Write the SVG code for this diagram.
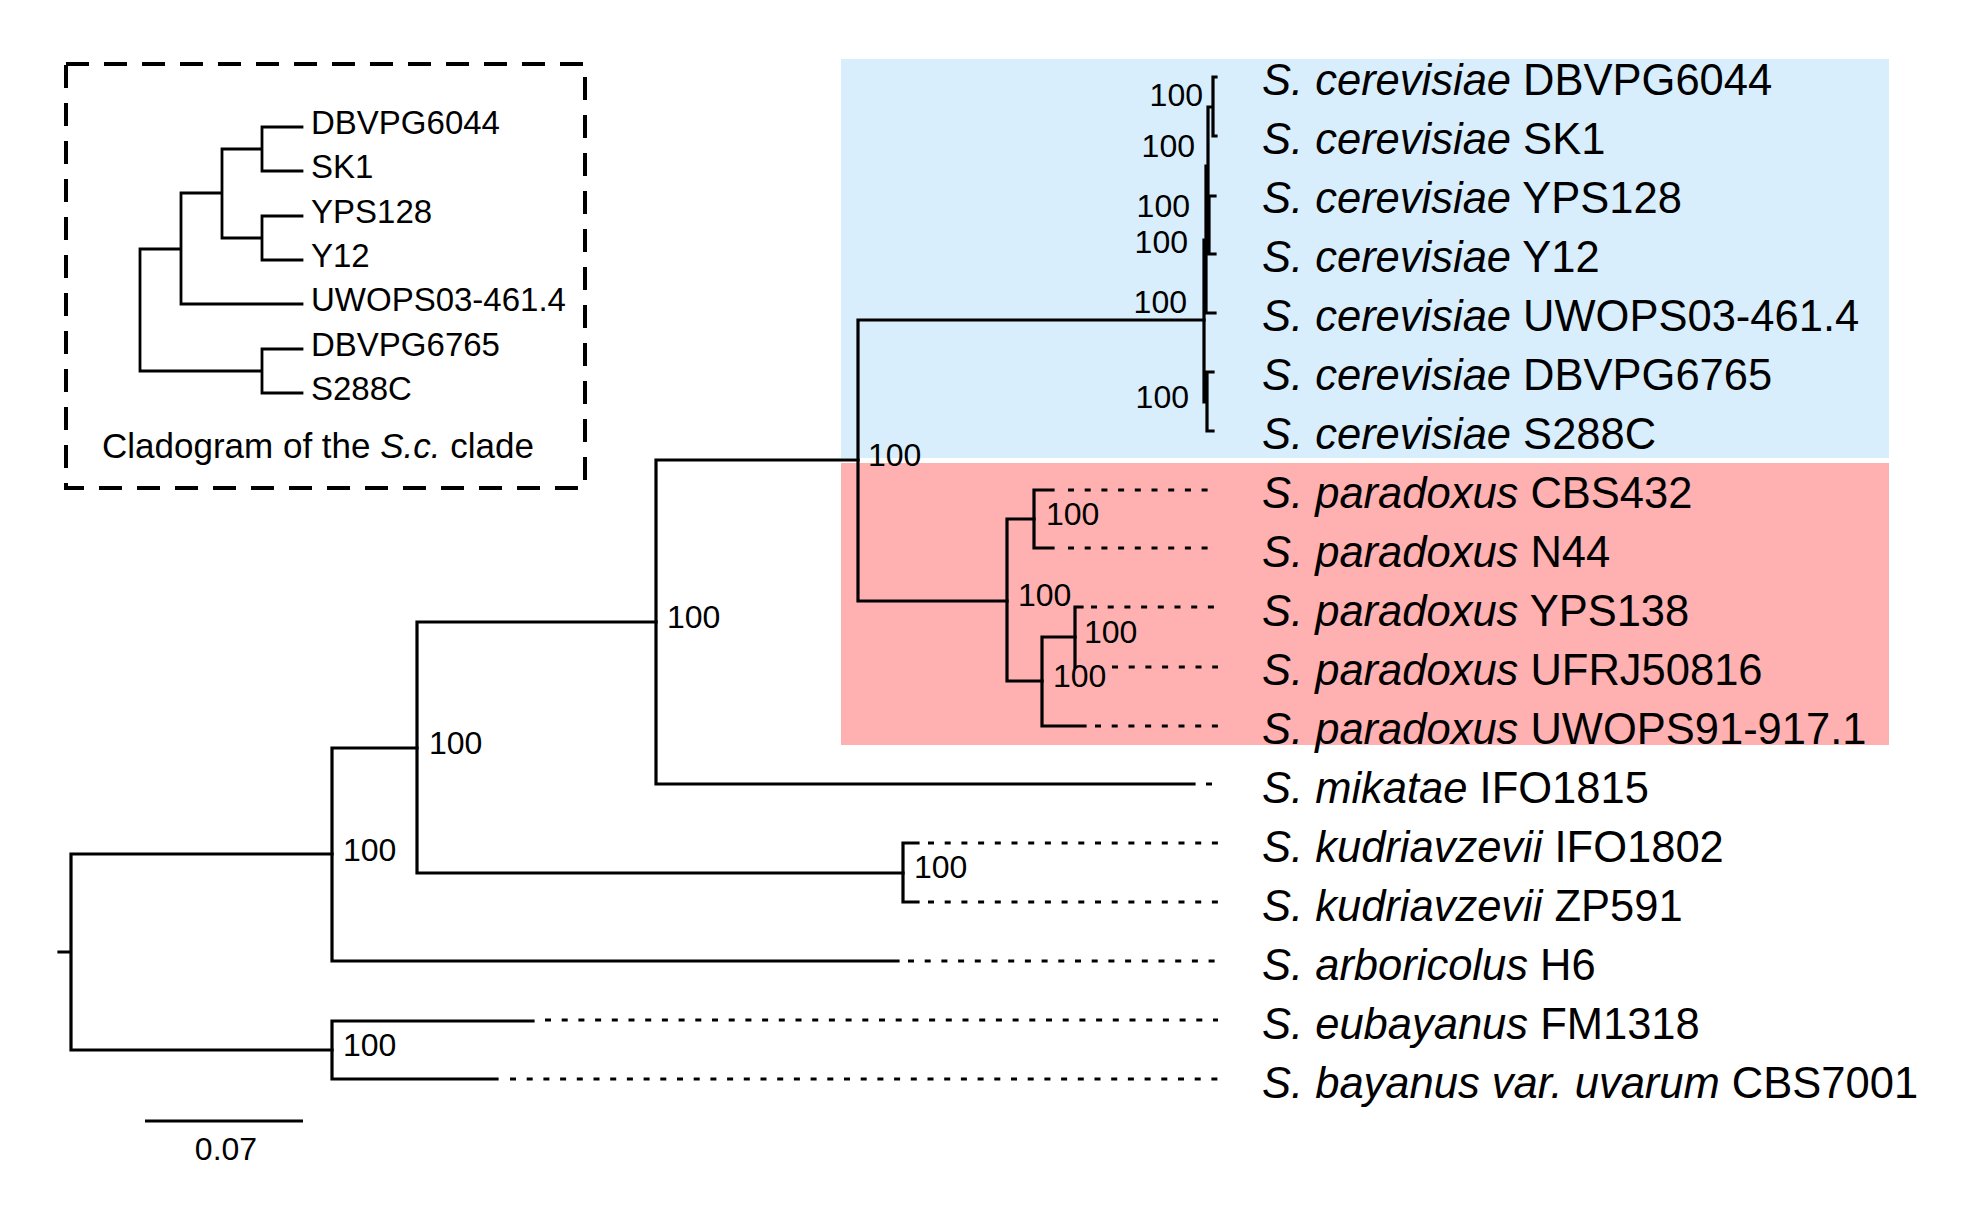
<svg xmlns="http://www.w3.org/2000/svg" width="1973" height="1220" viewBox="0 0 1973 1220">
<style>
text{font-family:"Liberation Sans",Arial,Helvetica,sans-serif;fill:#000}
.lab{font-size:43.5px}
.sp{font-style:italic}
.bs{font-size:32px}
.in{font-size:33px}
.cap{font-size:35px}
.br{stroke:#000;stroke-width:3.2;fill:none;stroke-linejoin:miter;stroke-linecap:square}
.ibr{stroke:#000;stroke-width:2.8;fill:none;stroke-linecap:square}
.dot{stroke:#000;stroke-width:3.2;fill:none;stroke-dasharray:6 10.7}
.box{stroke:#000;stroke-width:4;fill:none;stroke-dasharray:23 15}
</style>
<rect width="1973" height="1220" fill="#fff"/>
<g id="clade-highlights">
<rect id="cerevisiae-clade" x="841" y="59" width="1048" height="399" fill="#d8eefc"/>
<rect id="paradoxus-clade" x="841" y="463" width="1048" height="282" fill="#ffb0b0"/>
</g>
<g id="inset">
<rect id="inset-frame" x="66" y="64" width="519" height="424" class="box"/>
<g id="inset-connectors">
<path class="ibr" d="M302,127 H262 V171 H302 M302,216 H262 V260 H302 M302,349 H262 V393 H302 M262,149 H222 V238 H262 M222,193 H181 V304 H302 M181,249 H140 V371 H262"/>
</g>
<g id="inset-tips">
<text class="in" x="311" y="134">DBVPG6044</text>
<text class="in" x="311" y="178">SK1</text>
<text class="in" x="311" y="223">YPS128</text>
<text class="in" x="311" y="267">Y12</text>
<text class="in" x="311" y="311">UWOPS03-461.4</text>
<text class="in" x="311" y="356">DBVPG6765</text>
<text class="in" x="311" y="400">S288C</text>
</g>
<text id="inset-caption" class="cap" x="102" y="458">Cladogram of the <tspan class="sp">S.c.</tspan> clade</text>
</g>
<g id="connectors">
<path class="br" d="M59,952 H71 M71,854 V1050 M71,854 H332 M71,1050 H332"/>
<path class="br" d="M332,748 V961 M332,748 H417 M332,961 H898"/>
<path class="br" d="M417,622 V873 M417,622 H656 M417,873 H903"/>
<path class="br" d="M903,843 V902 M903,843 H918 M903,902 H918"/>
<path class="br" d="M656,460 V784 M656,460 H858 M656,784 H1194"/>
<path class="br" d="M858,320 V601 M858,320 H1204 M858,601 H1007"/>
<path class="br" d="M1007,519 V681 M1007,519 H1034 M1007,681 H1042"/>
<path class="br" d="M1034,490 V548 M1034,490 H1053 M1034,548 H1053"/>
<path class="br" d="M1042,637 V726 M1042,637 H1075 M1042,726 H1085"/>
<path class="br" d="M1075,607 V667 M1075,607 H1082"/>
<path class="br" d="M332,1021 V1079 M332,1021 H533 M332,1079 H497"/>
<path class="br" d="M1216,77 H1213 V136 H1216 M1208,107 H1213 M1208,107 V225 M1208,225 H1209 M1215,196 H1209 V254 H1215 M1206,166 H1208 M1206,166 V313 H1215 M1204,240 H1206 M1204,240 V402 H1207 M1213,372 H1207 V431 H1213"/>
<path class="dot" d="M1068,490 H1218 M1068,548 H1218 M1091,607 H1218 M1112,667 H1218 M1095,726 H1218 M1206,784 H1218 M928,843 H1218 M928,902 H1218 M908,961 H1218 M545,1020 H1218 M510,1079 H1218"/>
</g>
<g id="bootstrap">
<g id="node-root-upper"><text class="bs" x="343" y="861">100</text></g>
<g id="node-root-lower"><text class="bs" x="343" y="1056">100</text></g>
<g id="node-417"><text class="bs" x="429" y="754">100</text></g>
<g id="node-656"><text class="bs" x="667" y="628">100</text></g>
<g id="node-858"><text class="bs" x="868" y="466">100</text></g>
<g id="node-kudriavzevii"><text class="bs" x="914" y="878">100</text></g>
<g id="node-1007"><text class="bs" x="1018" y="606">100</text></g>
<g id="node-1034"><text class="bs" x="1046" y="525">100</text></g>
<g id="node-1075"><text class="bs" x="1084" y="643">100</text></g>
<g id="node-1042"><text class="bs" x="1053" y="687">100</text></g>
<g id="node-sc1"><text class="bs" x="1203" y="106" text-anchor="end">100</text></g>
<g id="node-sc2"><text class="bs" x="1195" y="157" text-anchor="end">100</text></g>
<g id="node-sc3"><text class="bs" x="1190" y="217" text-anchor="end">100</text></g>
<g id="node-sc4"><text class="bs" x="1188" y="253" text-anchor="end">100</text></g>
<g id="node-sc5"><text class="bs" x="1187" y="313" text-anchor="end">100</text></g>
<g id="node-sc6"><text class="bs" x="1189" y="408" text-anchor="end">100</text></g>
</g>
<g id="tips">
<g id="tip-DBVPG6044"><text class="lab" x="1262" y="95"><tspan class="sp">S. cerevisiae</tspan> DBVPG6044</text></g>
<g id="tip-SK1"><text class="lab" x="1262" y="154"><tspan class="sp">S. cerevisiae</tspan> SK1</text></g>
<g id="tip-YPS128"><text class="lab" x="1262" y="213"><tspan class="sp">S. cerevisiae</tspan> YPS128</text></g>
<g id="tip-Y12"><text class="lab" x="1262" y="272"><tspan class="sp">S. cerevisiae</tspan> Y12</text></g>
<g id="tip-UWOPS03"><text class="lab" x="1262" y="331"><tspan class="sp">S. cerevisiae</tspan> UWOPS03-461.4</text></g>
<g id="tip-DBVPG6765"><text class="lab" x="1262" y="390"><tspan class="sp">S. cerevisiae</tspan> DBVPG6765</text></g>
<g id="tip-S288C"><text class="lab" x="1262" y="449"><tspan class="sp">S. cerevisiae</tspan> S288C</text></g>
<g id="tip-CBS432"><text class="lab" x="1262" y="508"><tspan class="sp">S. paradoxus</tspan> CBS432</text></g>
<g id="tip-N44"><text class="lab" x="1262" y="567"><tspan class="sp">S. paradoxus</tspan> N44</text></g>
<g id="tip-YPS138"><text class="lab" x="1262" y="626"><tspan class="sp">S. paradoxus</tspan> YPS138</text></g>
<g id="tip-UFRJ50816"><text class="lab" x="1262" y="685"><tspan class="sp">S. paradoxus</tspan> UFRJ50816</text></g>
<g id="tip-UWOPS91"><text class="lab" x="1262" y="744"><tspan class="sp">S. paradoxus</tspan> UWOPS91-917.1</text></g>
<g id="tip-IFO1815"><text class="lab" x="1262" y="803"><tspan class="sp">S. mikatae</tspan> IFO1815</text></g>
<g id="tip-IFO1802"><text class="lab" x="1262" y="862"><tspan class="sp">S. kudriavzevii</tspan> IFO1802</text></g>
<g id="tip-ZP591"><text class="lab" x="1262" y="921"><tspan class="sp">S. kudriavzevii</tspan> ZP591</text></g>
<g id="tip-H6"><text class="lab" x="1262" y="980"><tspan class="sp">S. arboricolus</tspan> H6</text></g>
<g id="tip-FM1318"><text class="lab" x="1262" y="1039"><tspan class="sp">S. eubayanus</tspan> FM1318</text></g>
<g id="tip-CBS7001"><text class="lab" x="1262" y="1098"><tspan class="sp">S. bayanus var. uvarum</tspan> CBS7001</text></g>
</g>
<g id="scale-bar">
<path class="br" d="M145,1121 H303" style="stroke-linecap:butt"/>
<text class="bs" x="226" y="1160" text-anchor="middle">0.07</text>
</g>
</svg>
